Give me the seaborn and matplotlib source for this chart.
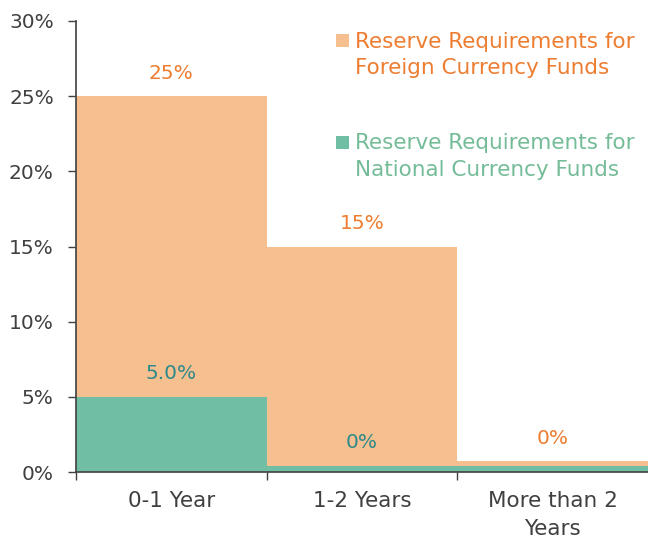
import matplotlib
matplotlib.use("Agg")
import matplotlib.pyplot as plt
import seaborn as sns
from matplotlib.patches import Rectangle

# Reserve requirement rates (%) by maturity
categories = ["0-1 Year", "1-2 Years", "More than 2\nYears"]
foreign_rates = [25, 15, 0]
national_rates = [5.0, 0, 0]
foreign_labels = ["25%", "15%", "0%"]
national_labels = ["5.0%", "0%", "0%"]
y_ticks = [0, 5, 10, 15, 20, 25, 30]
y_tick_labels = ["0%", "5%", "10%", "15%", "20%", "25%", "30%"]
legend_labels = ["Reserve Requirements for\nForeign Currency Funds",
                 "Reserve Requirements for\nNational Currency Funds"]

ORANGE = "#F6BF8F"
GREEN = "#70BFA5"
ORANGE_TXT = "#ED7D31"
GREEN_TXT = "#2E8A8A"
GREEN_LEG = "#74BC98"
AXIS = "#404040"

# zero-rate categories keep a thin stub so they stay visible
FOREIGN_STUB = 0.73
NATIONAL_STUB = 0.4

sns.set_theme(style="white")
plt.rcParams["font.family"] = ["DejaVu Sans"]

fig = plt.figure(figsize=(6.48, 5.41), dpi=100)
ax = fig.add_axes([76 / 648, 69 / 541, 572 / 648, 451 / 541])

foreign_draw = [v if v > 0 else FOREIGN_STUB for v in foreign_rates]
national_draw = [v if v > 0 else NATIONAL_STUB for v in national_rates]

sns.barplot(x=categories, y=foreign_draw, color=ORANGE, saturation=1,
            width=1.0, linewidth=0, ax=ax)
sns.barplot(x=categories, y=national_draw, color=GREEN, saturation=1,
            width=1.0, linewidth=0, ax=ax)

for i, (h, lab) in enumerate(zip(foreign_draw, foreign_labels)):
    ax.text(i, h + 1.5, lab, ha="center", va="center", color=ORANGE_TXT,
            fontsize=14.5)
for i, (h, lab) in enumerate(zip(national_draw, national_labels)):
    if i == 2:
        continue
    ax.text(i, h + 1.55, lab, ha="center", va="center", color=GREEN_TXT,
            fontsize=14.5)

ax.set_xlim(-0.5, 2.5)
ax.set_ylim(0, 30)
ax.set_yticks(y_ticks)
ax.set_yticklabels(y_tick_labels)
ax.set_xticks([0, 1, 2])
ax.set_xticklabels(categories)
ax.set_xticks([-0.5, 0.5, 1.5], minor=True)

ax.tick_params(axis="y", which="major", direction="out", length=6, width=1,
               color=AXIS, pad=10, labelsize=14.5, labelcolor=AXIS, left=True)
ax.tick_params(axis="x", which="major", length=0, pad=14, labelsize=15.5,
               labelcolor=AXIS)
ax.tick_params(axis="x", which="minor", direction="out", length=6, width=1,
               color=AXIS, bottom=True)
for t in ax.get_xticklabels():
    t.set_linespacing(1.5)

for s in ["top", "right"]:
    ax.spines[s].set_visible(False)
for s in ["left", "bottom"]:
    ax.spines[s].set_color(AXIS)
    ax.spines[s].set_linewidth(1.2)
ax.set_xlabel("")
ax.set_ylabel("")

# legend: colour squares beside two-line labels
leg = [(ORANGE, ORANGE_TXT, 40, 55), (GREEN, GREEN_LEG, 142, 156.5)]
for (sq, tc, sq_y, txt_y), text in zip(leg, legend_labels):
    fig.patches.append(Rectangle((336 / 648, 1 - (sq_y + 6.5) / 541), 13 / 648, 13 / 541,
                                 transform=fig.transFigure, facecolor=sq,
                                 edgecolor="none"))
    fig.text(355 / 648, 1 - txt_y / 541, text, ha="left", va="center",
             color=tc, fontsize=15.5, linespacing=1.42)

fig.savefig("out.png", dpi=100)
